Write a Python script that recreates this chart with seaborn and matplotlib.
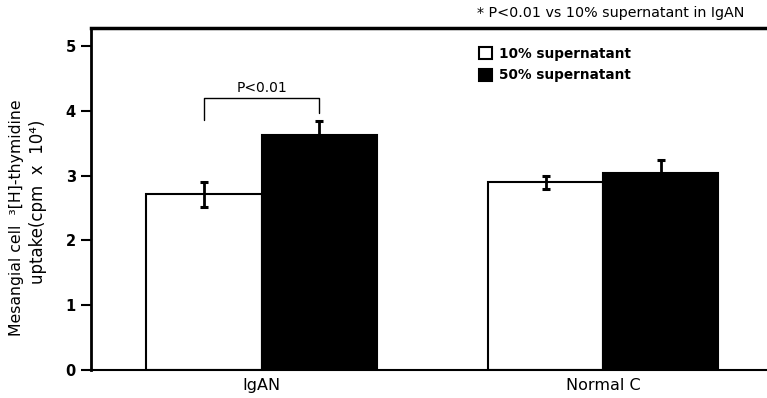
import matplotlib
matplotlib.use("Agg")
import matplotlib.pyplot as plt
import seaborn as sns
import pandas as pd

# ---- data ----
groups = ["IgAN", "Normal C"]
conditions = ["10% supernatant", "50% supernatant"]
values_10 = [2.71, 2.90]
values_50 = [3.63, 3.04]
err_10 = [0.20, 0.10]
err_50 = [0.22, 0.20]
y_ticks = [0, 1, 2, 3, 4, 5]
bracket_ends = [3.86, 3.97]
bracket_top = 4.2
bracket_label = "P<0.01"
note = "* P<0.01 vs 10% supernatant in IgAN"
ylabel_1 = "Mesangial cell  \u00b3[H]-thymidine"
ylabel_2 = "uptake(cpm  x  10\u2074)"

df = pd.DataFrame({
    "group": groups * 2,
    "condition": [conditions[0]] * 2 + [conditions[1]] * 2,
    "value": values_10 + values_50,
})
errs = {conditions[0]: err_10, conditions[1]: err_50}

sns.set_style("ticks", {"axes.edgecolor": "black", "text.color": "black",
                        "xtick.color": "black", "ytick.color": "black",
                        "axes.labelcolor": "black"})
plt.rcParams["font.family"] = ["DejaVu Sans"]

fig = plt.figure(figsize=(7.67, 3.98), dpi=100)
ax = fig.add_axes([91 / 767, 1 - 370 / 398, 1 - 91 / 767, (370 - 28) / 398])

sns.barplot(data=df, x="group", y="value", hue="condition", order=groups,
            hue_order=conditions,
            palette={conditions[0]: "white", conditions[1]: "black"},
            edgecolor="black", linewidth=1.5, width=0.675, gap=0,
            errorbar=None, ax=ax)

# error bars
centers = {}
for cond, cont in zip(conditions, ax.containers):
    for g, bar, e in zip(groups, cont, errs[cond]):
        cx = bar.get_x() + bar.get_width() / 2
        h = bar.get_height()
        centers[(g, cond)] = cx
        ax.errorbar(cx, h, yerr=e, fmt="none", ecolor="black", elinewidth=2,
                    capsize=3, capthick=2.2, zorder=5)

# significance bracket
x1 = centers[(groups[0], conditions[0])]
x2 = centers[(groups[0], conditions[1])]
ax.plot([x1, x1, x2, x2], [bracket_ends[0], bracket_top, bracket_top, bracket_ends[1]],
        color="black", lw=1)
ax.text((x1 + x2) / 2, bracket_top + 0.04, bracket_label, ha="center", va="bottom",
        fontsize=10, color="black")

ax.set_xlim(-0.5, 1.48)
ax.set_ylim(0, 5.28)
ax.set_yticks(y_ticks)
ax.set_xlabel("")
ax.set_ylabel("")
ax.tick_params(axis="y", length=7, width=1.5, labelsize=10.5, pad=4, colors="black")
ax.tick_params(axis="x", length=0, labelsize=11.5, pad=6, colors="black")
for lab in ax.get_yticklabels():
    lab.set_fontweight("bold")

ax.spines["right"].set_visible(False)
ax.spines["top"].set_linewidth(2.5)
ax.spines["left"].set_linewidth(2)
ax.spines["bottom"].set_linewidth(1.5)

# legend
handles, labels = ax.get_legend_handles_labels()
leg = ax.legend(handles, labels, loc="upper left",
                bbox_to_anchor=(472 / 767, 1 - 40 / 398), bbox_transform=fig.transFigure,
                frameon=False, handlelength=1.0, handleheight=1.0, handletextpad=0.45,
                labelspacing=0.55, prop={"weight": "bold", "size": 9.8}, borderpad=0)
for h in leg.legend_handles:
    h.set_edgecolor("black")
    h.set_linewidth(1.5)
for t in leg.get_texts():
    t.set_color("black")

# top note
fig.text(477 / 767, 1 - 13 / 398, note, ha="left", va="center", fontsize=10.3,
         color="black")

# y-axis label (two lines)
fig.text(17 / 767, 1 - 218 / 398, ylabel_1, rotation=90,
         ha="center", va="center", fontsize=11.3, color="black")
fig.text(38 / 767, 1 - 202 / 398, ylabel_2, rotation=90,
         ha="center", va="center", fontsize=12, color="black")

fig.savefig("out.png", dpi=100)
